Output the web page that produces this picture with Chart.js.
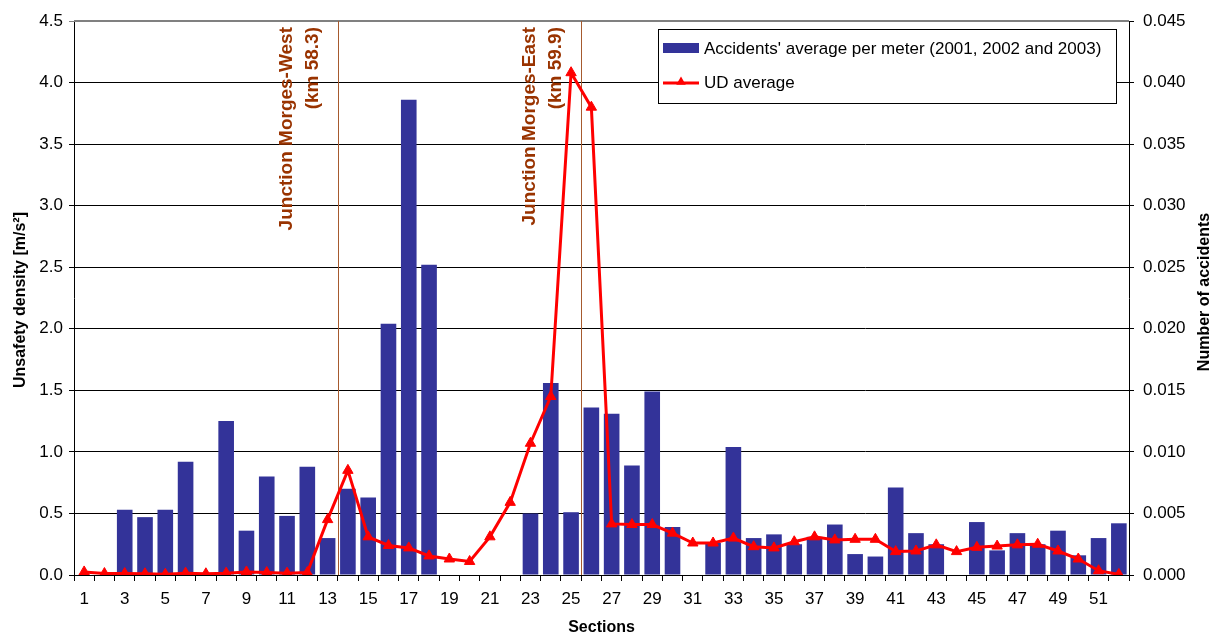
<!DOCTYPE html>
<html>
<head>
<meta charset="utf-8">
<script src="https://cdn.jsdelivr.net/npm/chart.js@4/dist/chart.umd.min.js"></script>
<style>
  html, body { margin: 0; padding: 0; background: #fff; }
  #wrap { width: 1219px; height: 637px; }
</style>
</head>
<body>
<div id="wrap"><canvas id="c" width="1219" height="637"></canvas></div>
<script>
// ---- data ----
const sections = ['1','2','3','4','5','6','7','8','9','10','11','12','13','14','15','16','17','18','19','20',
  '21','22','23','24','25','26','27','28','29','30','31','32','33','34','35','36','37','38','39','40',
  '41','42','43','44','45','46','47','48','49','50','51','52'];
const xTickLabels = ['1','3','5','7','9','11','13','15','17','19','21','23','25','27','29','31','33','35','37','39','41','43','45','47','49','51'];
// Number of accidents (right axis)
const accidentsAvg = [null, null, 0.0053, 0.0047, 0.0053, 0.0092, null, 0.0125, 0.0036, 0.0080,
  0.0048, 0.0088, 0.0030, 0.0070, 0.0063, 0.0204, 0.0386, 0.0252, null, null,
  null, null, 0.0050, 0.0156, 0.0051, 0.0136, 0.0131, 0.0089, 0.0149, 0.0039,
  null, 0.0026, 0.0104, 0.0030, 0.0033, 0.0025, 0.0031, 0.0041, 0.0017, 0.0015,
  0.0071, 0.0034, 0.0025, null, 0.0043, 0.0020, 0.0034, 0.0025, 0.0036, 0.0016,
  0.0030, 0.0042];
// UD average (left axis)
const udAverage = [0.025, 0.012, 0.012, 0.010, 0.006, 0.015, 0.010, 0.015, 0.025, 0.020,
  0.015, 0.020, 0.45, 0.85, 0.31, 0.24, 0.22, 0.155, 0.13, 0.11,
  0.31, 0.59, 1.07, 1.45, 4.08, 3.80, 0.415, 0.41, 0.41, 0.34,
  0.26, 0.26, 0.30, 0.23, 0.22, 0.27, 0.31, 0.285, 0.29, 0.29,
  0.19, 0.195, 0.245, 0.19, 0.225, 0.235, 0.245, 0.25, 0.195, 0.13,
  0.035, 0.005];
const leftTicks = { min: 0, max: 4.5, step: 0.5 };
const rightTicks = { min: 0, max: 0.045, step: 0.005 };
const seriesNames = ["Accidents' average per meter (2001, 2002 and 2003)", 'UD average'];
const axisTitles = { left: 'Unsafety density [m/s\u00B2]', right: 'Number of accidents', bottom: 'Sections' };
const junctions = [
  { after: '13', lines: ['Junction Morges-West', '(km 58.3)'] },
  { after: '25', lines: ['Junction Morges-East', '(km 59.9)'] }
];

// ---- style ----
const FONT = '"Liberation Sans", Arial, Helvetica, sans-serif';
const BAR_COLOR = '#333399';
const LINE_COLOR = '#FF0000';
const JUNCTION_COLOR = '#A65A2E';
const JUNCTION_TEXT = '#993300';

const decorPlugin = {
  id: 'decor',
  beforeDatasetsDraw(chart) {
    const { ctx, chartArea, scales } = chart;
    const x = scales.x;
    ctx.save();
    // top plot border
    ctx.strokeStyle = '#808080';
    ctx.lineWidth = 2;
    ctx.beginPath();
    ctx.moveTo(chartArea.left, chartArea.top);
    ctx.lineTo(chartArea.right, chartArea.top);
    ctx.stroke();
    // junction lines
    junctions.forEach(j => {
      const i = sections.indexOf(j.after);
      const px = Math.round((x.getPixelForValue(i) + x.getPixelForValue(i + 1)) / 2) + 0.5;
      ctx.strokeStyle = JUNCTION_COLOR;
      ctx.lineWidth = 1;
      ctx.beginPath();
      ctx.moveTo(px, chartArea.top);
      ctx.lineTo(px, chartArea.bottom);
      ctx.stroke();
      ctx.fillStyle = JUNCTION_TEXT;
      ctx.font = 'bold 19px ' + FONT;
      ctx.textAlign = 'right';
      ctx.textBaseline = 'middle';
      j.lines.forEach((t, k) => {
        ctx.save();
        ctx.translate(px - 52 + k * 26, chartArea.top + 6);
        ctx.rotate(-Math.PI / 2);
        ctx.fillText(t, 0, 0);
        ctx.restore();
      });
    });
    ctx.restore();
  },
  afterDraw(chart) {
    const { ctx, chartArea } = chart;
    ctx.save();
    // axis titles
    ctx.fillStyle = '#000';
    ctx.font = 'bold 16px ' + FONT;
    ctx.textAlign = 'center';
    ctx.textBaseline = 'middle';
    ctx.save();
    ctx.translate(21, 300);
    ctx.rotate(-Math.PI / 2);
    ctx.fillText(axisTitles.left, 0, 0);
    ctx.restore();
    ctx.save();
    ctx.translate(1205, 292);
    ctx.rotate(-Math.PI / 2);
    ctx.fillText(axisTitles.right, 0, 0);
    ctx.restore();
    ctx.fillText(axisTitles.bottom, (chartArea.left + chartArea.right) / 2, 628);

    // legend box
    const lx = chartArea.right - 471, ly = chartArea.top + 8, lw = 458, lh = 74;
    ctx.fillStyle = '#fff';
    ctx.fillRect(lx, ly, lw, lh);
    ctx.strokeStyle = '#000';
    ctx.lineWidth = 1;
    ctx.strokeRect(lx + 0.5, ly + 0.5, lw, lh);
    ctx.fillStyle = BAR_COLOR;
    ctx.fillRect(lx + 5, ly + 14, 36, 10);
    // line sample
    ctx.strokeStyle = LINE_COLOR;
    ctx.lineWidth = 3;
    ctx.beginPath();
    ctx.moveTo(lx + 5, ly + 54);
    ctx.lineTo(lx + 41, ly + 54);
    ctx.stroke();
    ctx.fillStyle = LINE_COLOR;
    ctx.beginPath();
    const tx = lx + 23, ty = ly + 53, r = 5.5;
    ctx.moveTo(tx, ty - r);
    ctx.lineTo(tx + r * 0.866, ty + r * 0.5);
    ctx.lineTo(tx - r * 0.866, ty + r * 0.5);
    ctx.closePath();
    ctx.fill();
    ctx.fillStyle = '#000';
    ctx.font = '17px ' + FONT;
    ctx.textAlign = 'left';
    ctx.textBaseline = 'middle';
    ctx.fillText(seriesNames[0], lx + 46, ly + 20);
    ctx.fillText(seriesNames[1], lx + 46, ly + 54);
    ctx.restore();
  }
};

new Chart(document.getElementById('c'), {
  type: 'bar',
  data: {
    labels: sections,
    datasets: [
      {
        type: 'line',
        label: seriesNames[1],
        data: udAverage,
        yAxisID: 'y',
        borderColor: LINE_COLOR,
        backgroundColor: LINE_COLOR,
        borderWidth: 3,
        pointStyle: 'triangle',
        pointRadius: 6,
        pointBorderWidth: 1,
        pointBackgroundColor: LINE_COLOR,
        pointBorderColor: LINE_COLOR,
        tension: 0,
        order: 0
      },
      {
        type: 'bar',
        label: seriesNames[0],
        data: accidentsAvg,
        yAxisID: 'y1',
        backgroundColor: BAR_COLOR,
        borderWidth: 0,
        barPercentage: 0.77,
        categoryPercentage: 1.0,
        order: 1
      }
    ]
  },
  options: {
    responsive: false,
    animation: false,
    devicePixelRatio: 1,
    layout: { padding: { top: 21, left: 0, right: 0, bottom: 0 } },
    plugins: { legend: { display: false }, tooltip: { enabled: false } },
    scales: {
      x: {
        type: 'category',
        offset: true,
        grid: { offset: true, drawOnChartArea: false, drawTicks: true, tickLength: 6, color: '#000' },
        border: { color: '#000', width: 1 },
        ticks: {
          autoSkip: false, maxRotation: 0, minRotation: 0, padding: 8,
          color: '#000', font: { family: FONT, size: 17 },
          callback: function (v) { const l = this.getLabelForValue(v); return xTickLabels.includes(l) ? l : ''; }
        },
        afterFit: s => { s.height = 62; }
      },
      y: {
        position: 'left',
        min: leftTicks.min, max: leftTicks.max,
        ticks: {
          stepSize: leftTicks.step, padding: 6, color: '#000',
          font: { family: FONT, size: 17 },
          callback: v => Number(v).toFixed(1)
        },
        grid: {
          color: c => (c.tick && c.tick.value > 4.49 ? '#808080' : '#000'),
          tickLength: 5, lineWidth: 1
        },
        border: { color: '#000', width: 1 },
        afterFit: s => { s.width = 74; }
      },
      y1: {
        position: 'right',
        min: rightTicks.min, max: rightTicks.max,
        ticks: {
          stepSize: rightTicks.step, padding: 9, color: '#000',
          font: { family: FONT, size: 17 },
          callback: v => Number(v).toFixed(3)
        },
        grid: { drawOnChartArea: false, tickLength: 5, color: '#000' },
        border: { color: '#000', width: 1 },
        afterFit: s => { s.width = 90; }
      }
    }
  },
  plugins: [decorPlugin]
});
</script>
</body>
</html>
